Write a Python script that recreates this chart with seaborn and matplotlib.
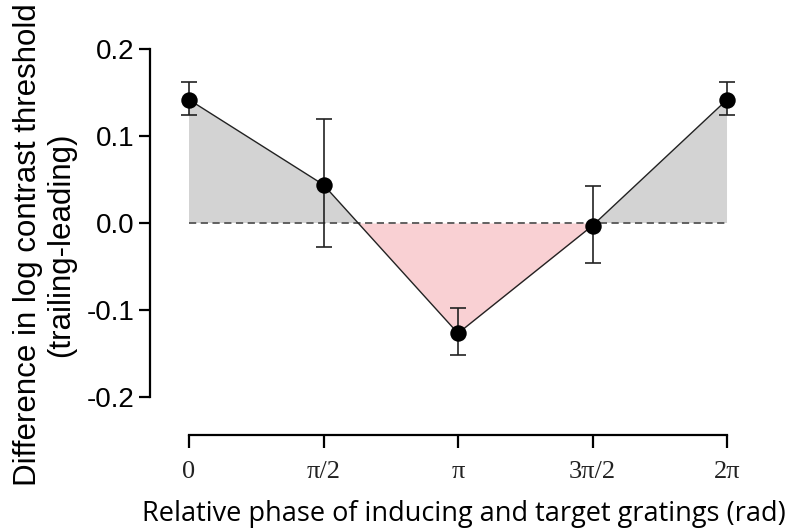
import numpy as np
import pandas as pd
import matplotlib
matplotlib.use("Agg")
import matplotlib.pyplot as plt
import seaborn as sns

# ---- data ----
phase = [0.0, np.pi / 2, np.pi, 3 * np.pi / 2, 2 * np.pi]
diff = [0.142, 0.044, -0.127, -0.003, 0.142]
err_low = [0.124, -0.028, -0.152, -0.046, 0.124]
err_high = [0.162, 0.120, -0.098, 0.043, 0.162]
xtick_labels = ["0", "π/2", "π", "3π/2", "2π"]
ytick_values = [-0.2, -0.1, 0.0, 0.1, 0.2]
ytick_labels = ["-0.2", "-0.1", "0.0", "0.1", "0.2"]

df = pd.DataFrame({"phase": phase, "diff": diff})

sns.set_theme(style="white")
plt.rcParams["font.family"] = ["Liberation Sans", "DejaVu Sans"]

fig = plt.figure(figsize=(7.91, 5.29), dpi=100)
ax = fig.add_axes([150 / 791, (529 - 435) / 529, 595 / 791, (435 - 49.3) / 529])

x = np.array(phase)
y = np.array(diff)
ax.fill_between(x, y, 0, where=y >= 0, interpolate=True, color="#d3d3d3", linewidth=0, zorder=1)
ax.fill_between(x, y, 0, where=y <= 0, interpolate=True, color="#f9d0d3", linewidth=0, zorder=1)
ax.plot([phase[0], phase[-1]], [0, 0], linestyle=(0, (4, 2.5)), color="#555555", linewidth=1.3, zorder=2)

yerr = np.vstack([y - np.array(err_low), np.array(err_high) - y])
ax.errorbar(x, y, yerr=yerr, fmt="none", ecolor="#222222", elinewidth=1.2, capsize=6, capthick=1.2, zorder=3)
sns.lineplot(data=df, x="phase", y="diff", ax=ax, color="#222222", linewidth=1.0, zorder=4, legend=False)
sns.scatterplot(data=df, x="phase", y="diff", ax=ax, color="black", s=140, edgecolor="black", linewidth=0, zorder=5, legend=False)

ax.set_xlim(-0.4555, 2 * np.pi + 0.21)
ax.set_ylim(-0.2441, 0.2)

for s in ["top", "right"]:
    ax.spines[s].set_visible(False)
ax.spines["left"].set_bounds(-0.2, 0.2)
ax.spines["bottom"].set_bounds(0, 2 * np.pi)
for s in ["left", "bottom"]:
    ax.spines[s].set_linewidth(1.6)
    ax.spines[s].set_color("black")

ax.set_yticks(ytick_values)
ax.set_yticklabels(ytick_labels, fontsize=20, family="Liberation Sans")
ax.set_xticks(phase)
ax.set_xticklabels(xtick_labels, fontsize=19, family="Liberation Serif")
ax.tick_params(axis="y", direction="out", length=8, width=1.6, color="black", left=True, pad=3,
               labelcolor="black")
ax.tick_params(axis="x", direction="out", length=9, width=1.6, color="black", bottom=True, pad=10,
               labelcolor="#222222")

ax.set_xlabel("Relative phase of inducing and target gratings (rad)", fontsize=19.5,
              family="Open Sans", color="black")
ax.xaxis.set_label_coords((464 - 150) / 595, -(500 - 435) / 385.7)
ax.set_ylabel("Difference in log contrast threshold\n(trailing-leading)", fontsize=22.5,
              family="Liberation Sans", linespacing=1.12, color="black")
ax.yaxis.set_label_coords((76 - 150) / 595, (435 - 245) / 385.7)

fig.savefig("out.png", dpi=100)
